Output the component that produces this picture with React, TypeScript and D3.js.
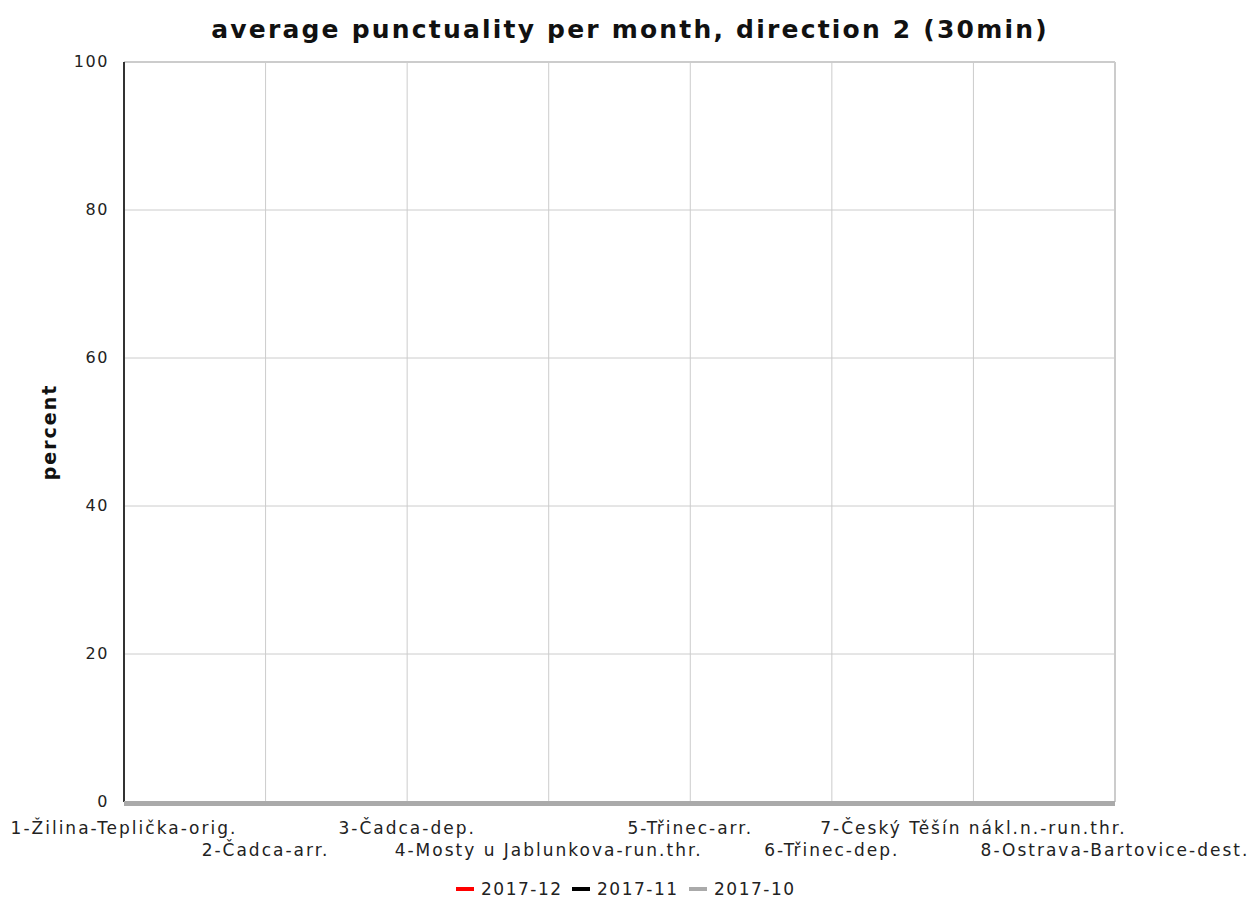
import { scaleLinear, scalePoint, line as d3Line } from 'd3';

const stations = [
  '1-Žilina-Teplička-orig.',
  '2-Čadca-arr.',
  '3-Čadca-dep.',
  '4-Mosty u Jablunkova-run.thr.',
  '5-Třinec-arr.',
  '6-Třinec-dep.',
  '7-Český Těšín nákl.n.-run.thr.',
  '8-Ostrava-Bartovice-dest.',
];
const months = ['2017-12', '2017-11', '2017-10'];
const values2017_12 = [0, 0, 0, 0, 0, 0, 0, 0];
const values2017_11 = [0, 0, 0, 0, 0, 0, 0, 0];
const values2017_10 = [0, 0, 0, 0, 0, 0, 0, 0];
const yTicks = [0, 20, 40, 60, 80, 100];

const seriesColors = ['#ff0000', '#000000', '#aaaaaa'];

const W = 1249;
const H = 900;
const MARGINS = { top: 62, right: 134, bottom: 98, left: 124 };
const FONT = '"DejaVu Sans", sans-serif';

const App = () => {
  const x = scalePoint<string>()
    .domain(stations)
    .range([MARGINS.left, W - MARGINS.right]);
  const y = scaleLinear()
    .domain([0, 100])
    .range([H - MARGINS.bottom, MARGINS.top]);

  const series = [values2017_12, values2017_11, values2017_10];
  const line = d3Line<number>()
    .x((_, i) => x(stations[i]) as number)
    .y((v) => y(v));

  const legendY = 889;
  const legendSlots = [456, 572, 689];

  return (
    <svg
      width={W}
      height={H}
      style={{ position: 'absolute', left: 0, top: 0, background: '#fff' }}
      fontFamily={FONT}
    >
      <text
        x={630}
        y={38}
        textAnchor="middle"
        fontSize={25}
        fontWeight="bold"
        letterSpacing={2.2}
        fill="#111"
      >
        average punctuality per month, direction 2 (30min)
      </text>

      {/* horizontal grid */}
      {yTicks.map((t) => (
        <line
          key={`h${t}`}
          x1={MARGINS.left}
          x2={W - MARGINS.right}
          y1={y(t)}
          y2={y(t)}
          stroke="#cccccc"
          strokeWidth={t === 100 ? 2 : 1}
        />
      ))}
      {/* vertical grid */}
      {stations.map((s, i) => (
        <line
          key={`v${i}`}
          x1={x(s)}
          x2={x(s)}
          y1={MARGINS.top}
          y2={H - MARGINS.bottom}
          stroke="#cccccc"
          strokeWidth={i === stations.length - 1 ? 2 : 1}
        />
      ))}

      {/* y axis */}
      <line
        x1={MARGINS.left}
        x2={MARGINS.left}
        y1={MARGINS.top}
        y2={H - MARGINS.bottom}
        stroke="#333"
        strokeWidth={2}
      />
      {yTicks.map((t) => (
        <text
          key={`yt${t}`}
          x={MARGINS.left - 15}
          y={y(t)}
          dy="0.3em"
          textAnchor="end"
          fontSize={16}
          letterSpacing={1.6}
          fill="#222"
        >
          {t}
        </text>
      ))}
      <text
        transform={`translate(56, ${(MARGINS.top + H - MARGINS.bottom) / 2}) rotate(-90)`}
        textAnchor="middle"
        fontSize={19}
        fontWeight="bold"
        letterSpacing={2}
        fill="#111"
      >
        percent
      </text>

      {/* category labels */}
      {stations.map((s, i) => (
        <text
          key={`xl${i}`}
          x={x(s)}
          y={i % 2 === 0 ? 834 : 856}
          textAnchor="middle"
          fontSize={17}
          letterSpacing={2}
          fill="#222"
        >
          {s}
        </text>
      ))}

      {/* series (drawn in legend order, the last one ends up on top) */}
      <g transform="translate(0, 1.5)">
        {series.map((vals, i) => (
          <path
            key={`s${i}`}
            d={line(vals) ?? ''}
            fill="none"
            stroke={seriesColors[i]}
            strokeWidth={i === 2 ? 5 : 4}
            shapeRendering="crispEdges"
          />
        ))}
      </g>

      {/* legend */}
      {months.map((m, i) => (
        <g key={`lg${i}`}>
          <rect x={legendSlots[i]} y={legendY - 2} width={18} height={4} fill={seriesColors[i]} />
          <text
            x={legendSlots[i] + 25}
            y={legendY}
            dy="0.35em"
            fontSize={17}
            letterSpacing={1.5}
            fill="#222"
          >
            {m}
          </text>
        </g>
      ))}
    </svg>
  );
};

export default App;
